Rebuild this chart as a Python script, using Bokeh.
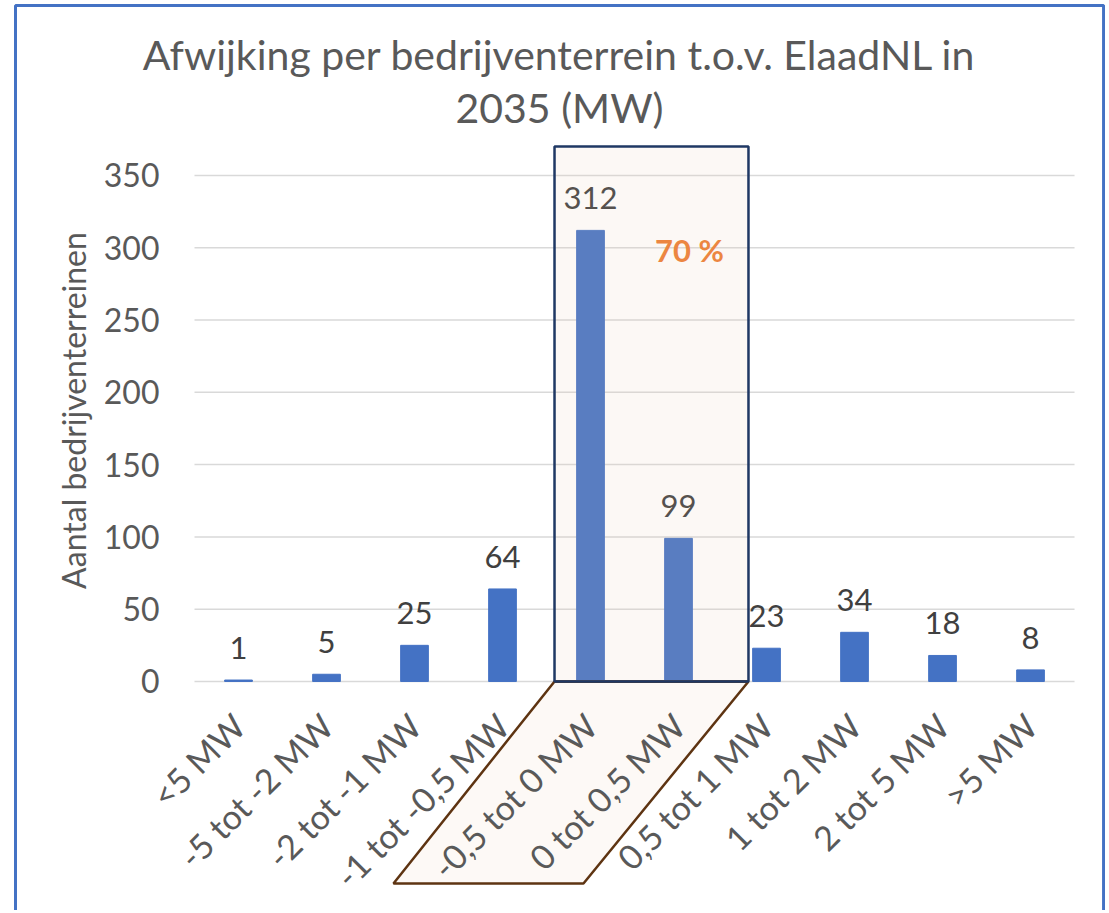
import math
from bokeh.plotting import figure
from bokeh.models import (ColumnDataSource, Range1d, FixedTicker, Label, LabelSet,
                          PolyAnnotation, LinearAxis)
from bokeh.core.properties import value
from bokeh.embed import file_html
from bokeh.resources import INLINE

categories = ["<5 MW", "-5 tot -2 MW", "-2 tot -1 MW", "-1 tot -0,5 MW", "-0,5 tot 0 MW",
              "0 tot 0,5 MW", "0,5 tot 1 MW", "1 tot 2 MW", "2 tot 5 MW", ">5 MW"]
counts = [1, 5, 25, 64, 312, 99, 23, 34, 18, 8]
y_ticks = [0, 50, 100, 150, 200, 250, 300, 350]
title_lines = ["Afwijking per bedrijventerrein t.o.v. ElaadNL in", "2035 (MW)"]
y_label = "Aantal bedrijventerreinen"
share_label = "70 %"

FONT = "Lato"
GREY = "#595959"
DARK = "#404040"

n = len(categories)
positions = list(range(n))
src = ColumnDataSource(dict(x=positions, val=counts, lab=[str(v) for v in counts]))

# frame covers the whole canvas so that every decoration can be drawn in data space
p = figure(width=1105, height=910, x_range=Range1d(-2.7045, 9.852),
           y_range=Range1d(-158.4, 471.0), output_backend="svg", toolbar_location=None,
           min_border_left=0, min_border_right=0, min_border_top=0, min_border_bottom=0,
           x_axis_location=None, y_axis_location=None)
p.outline_line_color = None
p.background_fill_color = "white"
p.border_fill_color = "white"
p.xgrid.visible = False
p.ygrid.visible = False

# horizontal gridlines over the category span
p.segment(x0=[-0.5] * len(y_ticks), x1=[n - 0.5] * len(y_ticks), y0=y_ticks, y1=y_ticks,
          line_color="#D9D9D9", line_width=1.5, level="underlay")

# parallelogram behind the highlighted category labels
p.add_layout(PolyAnnotation(xs=[3.591, 5.795, 3.920, 1.761], ys=[0, 0, -139.7, -139.7],
                            fill_color="#FDF9F6", fill_alpha=1.0,
                            line_color="#5E3412", line_alpha=1.0, line_width=2.5,
                            level="underlay"))

p.vbar(x="x", top="val", width=0.315, source=src, color="#4472C4")

# highlight box (translucent tint over the bars)
p.add_layout(PolyAnnotation(xs=[3.591, 5.795, 5.795, 3.591], ys=[0, 0, 370.1, 370.1],
                            fill_color="#E9C8B1", fill_alpha=0.13,
                            line_color="#1F3864", line_alpha=1.0, line_width=2.5,
                            level="overlay"))
# brown bottom edge of the box (shared with parallelogram)
p.segment(x0=[3.591], x1=[5.795], y0=[0], y1=[0], line_color="#5E3412", line_width=2.5,
          level="overlay")

p.add_layout(LabelSet(x="x", y="val", text="lab", source=src, y_offset=21,
                      text_align="center", text_baseline="alphabetic",
                      text_font=value(FONT), text_font_size="31px", text_color=DARK))

p.add_layout(Label(x=5.125, y=298.1, text=share_label, text_align="center",
                   text_baseline="middle", text_font=FONT, text_font_size="31px",
                   text_font_style="bold", text_color="#ED7D31"))

# chart title (two lines)
p.add_layout(Label(x=3.648, y=433.7, text=title_lines[0], text_align="center",
                   text_baseline="middle", text_font=FONT, text_font_size="41px",
                   text_color=GREY))
p.add_layout(Label(x=3.648, y=396.7, text=title_lines[1], text_align="center",
                   text_baseline="middle", text_font=FONT, text_font_size="41px",
                   text_color=GREY))

# y axis title
p.add_layout(Label(x=-1.875, y=187.4, text=y_label, angle=math.pi / 2, text_align="center",
                   text_baseline="middle", text_font=FONT, text_font_size="32px",
                   text_color=GREY))

# blue outer border of the chart
p.add_layout(PolyAnnotation(xs=[-2.534, -2.534, 9.83, 9.83], ys=[-250, 467.6, 467.6, -250],
                            fill_alpha=0, line_color="#4472C4", line_alpha=1.0, line_width=3,
                            level="overlay"))

# axes fixed inside the frame
yax = LinearAxis(fixed_location=-0.5, ticker=FixedTicker(ticks=y_ticks))
yax.axis_line_color = None
yax.major_tick_line_color = None
yax.minor_tick_line_color = None
yax.major_label_standoff = 29
yax.major_label_text_font = FONT
yax.major_label_text_font_size = "32px"
yax.major_label_text_color = GREY
p.add_layout(yax, "left")

xax = LinearAxis(fixed_location=0, ticker=FixedTicker(ticks=positions),
                 major_label_overrides={i: c for i, c in zip(positions, categories)})
xax.axis_line_color = None
xax.major_tick_line_color = None
xax.minor_tick_line_color = None
xax.major_label_orientation = math.pi / 4
xax.major_label_standoff = 32
xax.major_label_text_font = FONT
xax.major_label_text_font_size = "34px"
xax.major_label_text_color = GREY
p.add_layout(xax, "below")

open("out.html", "w").write(file_html(p, INLINE))
